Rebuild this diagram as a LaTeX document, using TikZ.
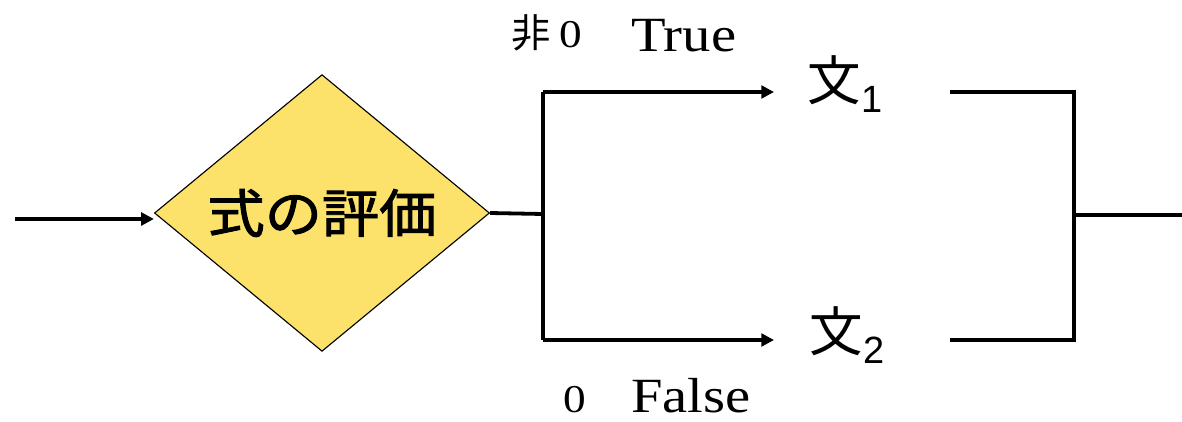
\documentclass[tikz,border=0pt]{standalone}
\usepackage{fontspec}
\usetikzlibrary{shapes.geometric}
\usetikzlibrary{arrows.meta}
\setmainfont{Liberation Serif}[FakeStretch=1.15]
\newfontfamily\cjk{Noto Sans CJK JP}[FakeStretch=1.1,FakeBold=1.8]
\newfontfamily\cjkplain{Noto Sans CJK JP}
\newfontfamily\subsans{Liberation Sans}
\definecolor{condyellow}{RGB}{252,226,106}
\newcommand{\stmt}[1]{{\cjkplain\fontsize{38pt}{40pt}\selectfont 文}\raisebox{-9pt}{\subsans\fontsize{27pt}{29pt}\selectfont #1}}

\begin{document}
\begin{tikzpicture}[x=0.025cm,y=-0.025cm,
  wire/.style={line width=2.7pt},
  arr/.style={wire,-{Triangle[length=9pt,width=9pt]}},
  cond/.style={diamond,draw=black,line width=0.8pt,fill=condyellow,inner sep=0pt,
    minimum width=8.375cm,minimum height=5.55cm,
    font=\cjk\fontsize{37pt}{39pt}\selectfont},
  lbl/.style={inner sep=0pt,anchor=base west}]
\useasboundingbox (0,0) rectangle (1182,421);
% condition
\node[cond] (eval) at (322,213) {式の評価};
\coordinate (start) at (15,219);
\draw[arr,line width=2.3pt] (start) -- (start -| eval.west);
% branches
\coordinate (split) at (543,214);
\coordinate (tj) at (543,92);
\coordinate (fj) at (543,340);
\node[inner sep=0pt] (s1) at (845,84) {\stmt{1}};
\node[inner sep=0pt] (s2) at (847,335) {\stmt{2}};
\coordinate (s1in) at (774,92);
\coordinate (s2in) at (774,340);
\draw[wire] (eval.east) -- (split);
\draw[wire] (tj) -- (fj);
\draw[arr] (tj) -- (s1in);
\draw[arr] (fj) -- (s2in);
% labels
\node[lbl] (nz) at (511,47) {{\cjkplain\fontsize{28pt}{30pt}\selectfont 非}\hspace{6pt}{\fontsize{28pt}{30pt}\selectfont 0}};
\node[lbl] (tl) at (631,51) {\fontsize{35pt}{37pt}\selectfont True};
\node[lbl] (zl) at (563,412) {\fontsize{28pt}{30pt}\selectfont 0};
\node[lbl] (fl) at (631,412) {\fontsize{35pt}{37pt}\selectfont False};
% join
\coordinate (s1out) at (950,92);
\coordinate (s2out) at (950,340);
\coordinate (j1) at (1074,92);
\coordinate (j2) at (1074,340);
\coordinate (join) at (1074,215);
\coordinate (end) at (1182,215);
\draw[wire] (s1out) -- (j1) -- (j2) -- (s2out);
\draw[wire] (join) -- (end);
\end{tikzpicture}
\end{document}
